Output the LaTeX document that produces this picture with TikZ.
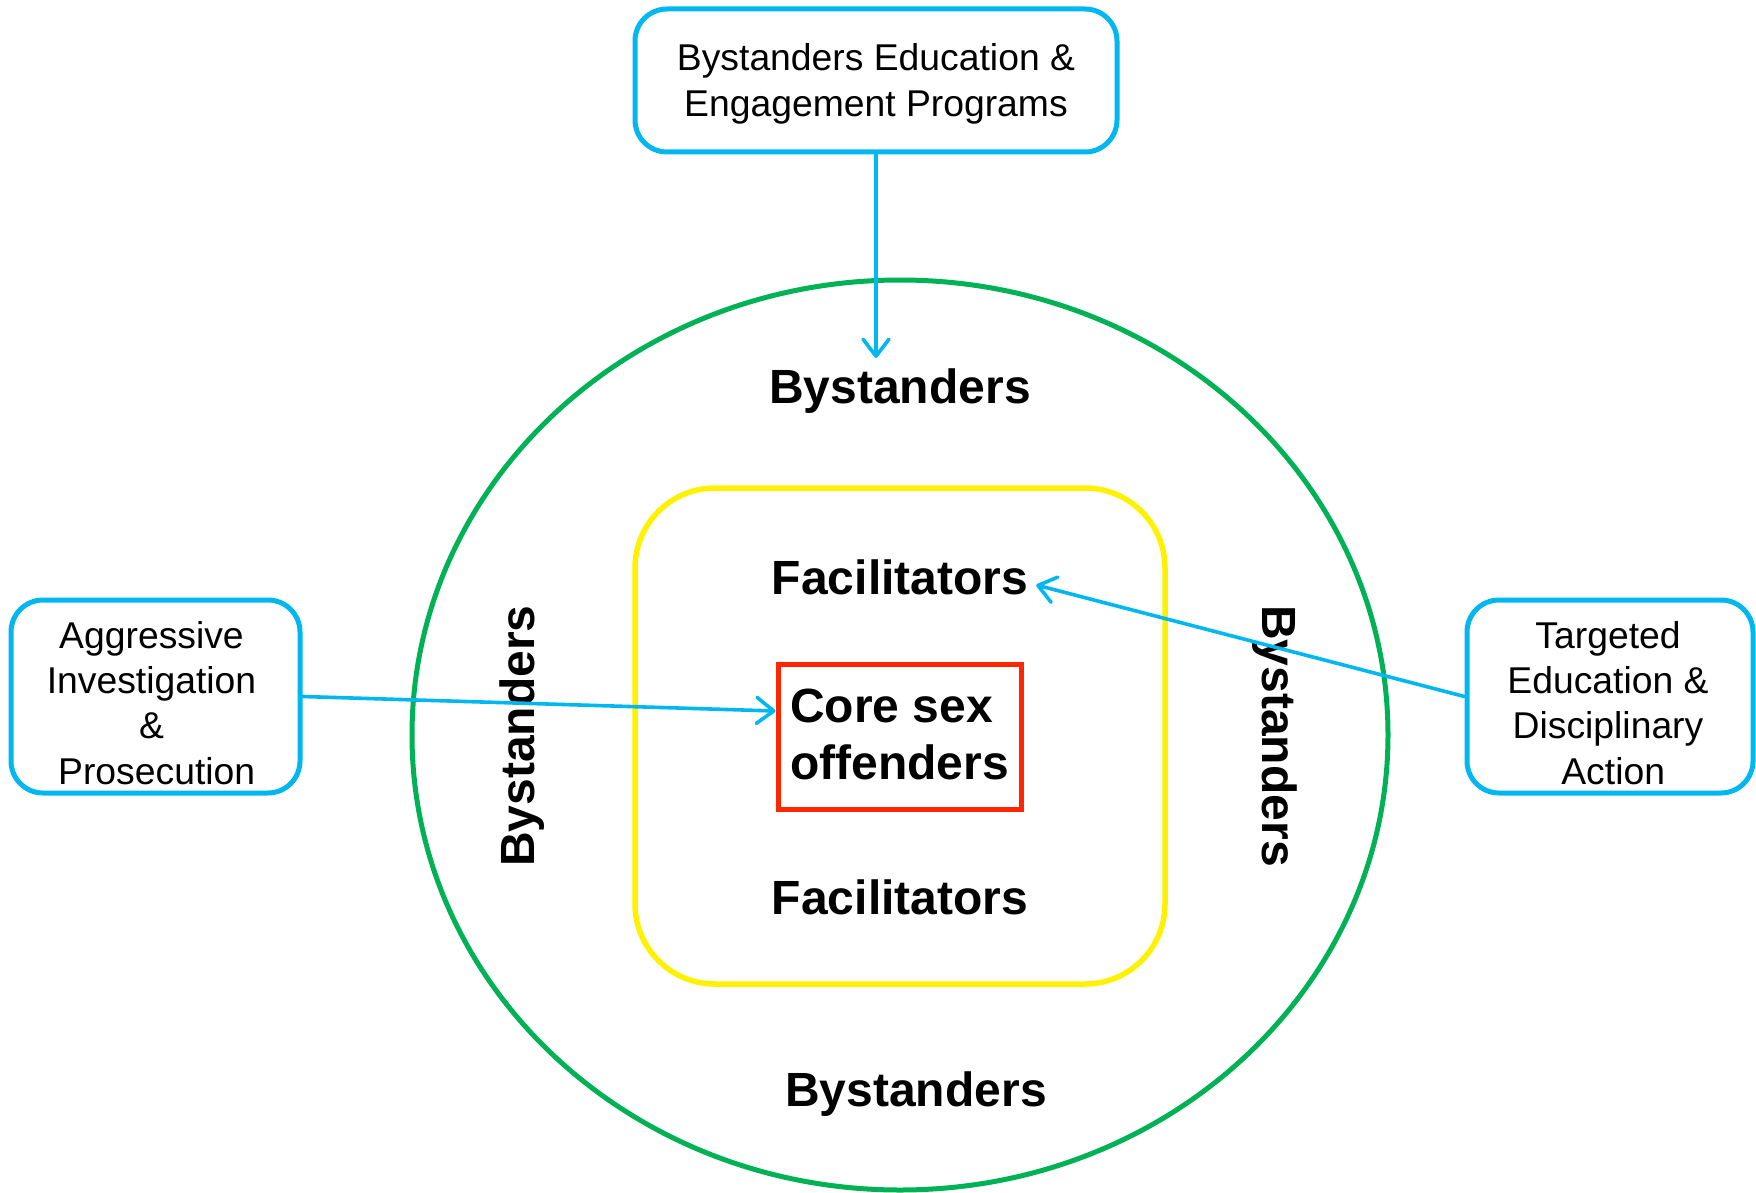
\documentclass[tikz,border=0pt]{standalone}
\usepackage{fontspec}
\setmainfont{Liberation Sans}
\usetikzlibrary{arrows.meta,calc}
\definecolor{boxblue}{RGB}{0,183,240}
\definecolor{ringgreen}{RGB}{0,178,85}
\definecolor{zoneyellow}{RGB}{255,242,0}
\definecolor{corered}{RGB}{255,38,0}
% lower a block of text without changing the size it reports
\newcommand{\lowerby}[2]{\raisebox{-#1}[\height][\depth]{#2}}

\begin{document}
\begin{tikzpicture}[x=1pt,y=-1pt,
  prog/.style={draw=boxblue, line width=5pt, rounded corners=32pt, fill=white,
    align=center, inner sep=0pt, font=\fontsize{37.3}{45.3}\selectfont},
  zone/.style={font=\fontsize{48}{57}\selectfont\bfseries, inner sep=2pt},
  link/.style={draw=boxblue, line width=3.6pt, line cap=round,
    -{Straight Barb[round, length=17pt, width=26pt, line width=3.6pt]}}
]
\useasboundingbox (0,0) rectangle (1756,1193);
\fill[white] (0,0) rectangle (1756,1193);

% nested circles of involvement
\draw[ringgreen, line width=5pt] (900,735) ellipse [x radius=488pt, y radius=455pt];
\draw[zoneyellow, line width=5.5pt, rounded corners=80pt] (635,488) rectangle (1165,984);
\node[draw=corered, line width=5pt, minimum width=243pt, minimum height=145pt,
  inner sep=0pt, font=\fontsize{48}{57}\selectfont\bfseries]
  (core) at (899.5,736.5) {\lowerby{3pt}{\begin{tabular}{@{}l@{}}Core sex\\[-0.2pt]offenders\end{tabular}}};

% ring labels
\node[zone] (bysttop) at (900,391) {Bystanders};
\node[zone] (bystbot) at (916,1094) {Bystanders};
\node[zone, rotate=90] (bystleft) at (522,736) {Bystanders};
\node[zone, rotate=-90] (bystright) at (1275,736) {Bystanders};
\node[zone] (factop) at (900,577) {Facilitators};
\node[zone] (facbot) at (900,897) {Facilitators};

% intervention programs
\node[prog, minimum width=482pt, minimum height=143pt] (edu) at (876,80.5)
  {\lowerby{4pt}{\begin{tabular}{@{}c@{}}Bystanders Education \&\\Engagement Programs\end{tabular}}};
\node[prog, minimum width=289pt, minimum height=193pt] (inv) at (155.5,696.5)
  {\lowerby{10.5pt}{\hspace*{-8pt}\begin{tabular}{@{}c@{}}Aggressive\\Investigation\\\&\\\ Prosecution\end{tabular}}};
\node[prog, minimum width=286pt, minimum height=193pt] (disc) at (1610,696.5)
  {\lowerby{10.5pt}{\hspace*{-4pt}\begin{tabular}{@{}c@{}}Targeted\\Education \&\\Disciplinary\\\ Action\end{tabular}}};

% connectors
\coordinate (eduend) at (876,358);
\draw[link] (edu.south) -- (eduend);
\draw[link] (inv.east) -- ($(core.north west)!0.33!(core.south west)$);
\draw[link] (disc.west) -- ($(factop.east)+(6,8)$);
\end{tikzpicture}
\end{document}
